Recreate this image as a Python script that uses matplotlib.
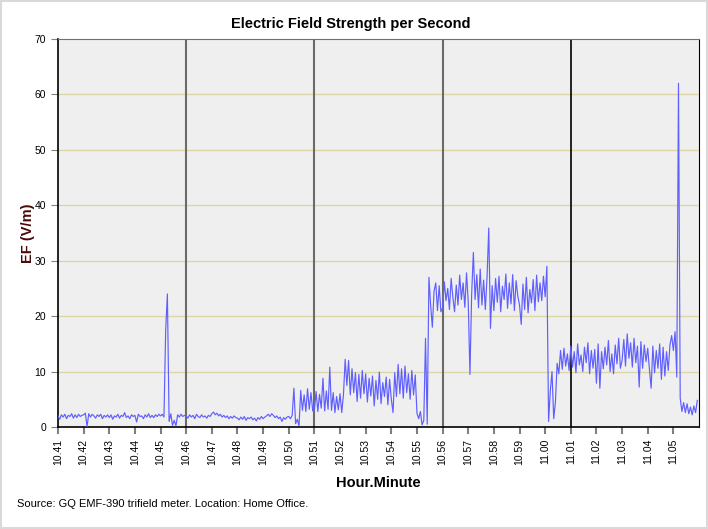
import numpy as np
import matplotlib
matplotlib.use("Agg")
import matplotlib.pyplot as plt
from matplotlib.patches import Rectangle

plt.rcParams['font.family'] = ['Liberation Sans', 'DejaVu Sans']

# EF readings (V/m), one value every 4 seconds, starting 10:41:00
step_s = 4
ef_1041_1045 = [
    2.0, 1.4, 2.2, 1.8, 2.3, 1.5, 2.1, 1.9, 2.4, 1.6, 2.2, 1.7, 2.3, 1.9, 2.1,
    2.2, 2.5, 0.1, 2.4, 1.8, 2.3, 2.0, 1.6, 2.2, 1.9, 2.3, 1.5, 2.1, 1.8, 2.2,
    1.7, 2.2, 1.4, 2.0, 1.8, 2.3, 1.6, 2.1, 1.9, 2.6, 1.7, 2.0, 1.5, 2.2, 1.9,
    2.1, 0.9, 2.3, 1.9, 2.0, 1.5, 2.2, 1.8, 2.4, 1.7, 2.1, 1.7, 2.2, 1.9, 2.3,
    2.0, 2.3, 1.8, 17.5, 24.0, 1.0, 2.4, 0.3, 1.2, 0.2, 2.2, 1.8, 2.3, 1.9, 2.1,
]
ef_1046_1050 = [
    2.0, 1.6, 2.2, 1.8, 2.1, 1.5, 2.3, 1.9, 1.7, 2.2, 1.8, 2.0, 1.6, 2.1, 1.9,
    2.4, 2.7, 2.2, 2.5, 2.0, 2.3, 1.8, 2.1, 1.7, 2.0, 1.5, 1.9, 1.6, 2.0, 1.7,
    1.6, 1.3, 1.8, 1.4, 1.9, 1.2, 1.7, 1.5, 1.8, 1.3, 1.6, 1.1, 1.7, 1.4, 1.9,
    1.5, 1.8, 2.0, 2.3, 1.9, 2.4, 2.1, 1.7, 2.0, 1.5, 1.8, 1.0, 1.7, 1.4, 1.8,
    1.9, 1.5, 2.1, 7.0, 0.6, 1.4, 0.2, 6.6, 3.0, 5.8, 2.8, 6.9, 3.2, 6.2, 2.9,
]
ef_1051_1055 = [
    3.1, 6.4, 2.8, 5.9, 3.4, 8.8, 2.9, 6.5, 3.2, 10.8, 3.0, 6.2, 2.6, 5.5, 3.1,
    6.0, 2.6, 5.8, 12.2, 7.5, 12.0, 5.8, 10.5, 6.2, 9.8, 4.6, 9.5, 5.2, 10.2, 6.0,
    9.6, 4.5, 8.8, 5.6, 9.2, 3.8, 8.4, 5.0, 9.9, 4.2, 8.0, 5.5, 9.0, 4.0, 8.6,
    5.0, 2.6, 9.8, 5.5, 11.3, 6.0, 10.5, 5.2, 11.0, 6.2, 9.6, 5.0, 10.2, 5.8, 9.4,
    2.5, 1.5, 2.8, 0.4, 1.2, 16.0, 0.5, 27.0, 22.0, 18.0, 24.5, 26.0, 21.0, 25.5, 20.8,
]
ef_1056_1100 = [
    21.5, 26.2, 22.8, 25.0, 21.2, 26.8, 23.4, 20.8, 25.6, 22.0, 27.4, 23.0, 26.0, 21.6, 27.8,
    22.5, 9.5, 24.0, 31.5, 23.0, 27.5, 21.5, 28.5, 22.0, 26.5, 21.2, 27.0, 35.9, 17.8, 25.5,
    21.0, 26.8, 22.5, 27.2, 20.8, 25.4, 23.0, 27.6, 21.4, 26.0, 22.2, 27.5, 21.0, 26.4, 23.6,
    22.0, 18.5, 25.8, 21.2, 27.0, 20.6, 24.8, 22.4, 26.6, 21.0, 27.4, 22.6, 26.0, 22.8, 27.2,
    23.5, 29.0, 1.0, 6.5, 10.0, 1.5, 4.5, 11.5, 9.6, 13.8, 10.4, 14.2, 11.0, 13.2, 10.2,
]
ef_1101_1105 = [
    14.6, 10.8, 13.6, 9.8, 15.0, 11.2, 13.0, 10.0, 14.4, 11.6, 15.2, 9.6, 13.8, 10.6, 14.0,
    7.9, 15.0, 7.0, 13.6, 10.5, 14.4, 11.2, 15.6, 10.0, 13.2, 9.6, 14.8, 11.4, 16.0, 10.6,
    12.0, 15.8, 11.0, 16.8, 12.4, 15.2, 10.8, 16.0, 11.6, 14.6, 7.2, 15.4, 10.6, 14.8, 11.8,
    14.2, 10.4, 7.0, 14.6, 9.8, 13.8, 10.6, 15.0, 8.6, 14.4, 9.2, 13.6, 10.2, 14.8, 16.5,
    13.8, 17.2, 9.0, 62.0, 5.2, 2.8, 4.4, 2.6, 4.2, 2.4, 3.6, 2.2, 3.8, 2.6, 4.8,
]
tick_labels = ["10.%02d" % m for m in range(41, 60)] + ["11.%02d" % m for m in range(0, 6)]

ef = np.array(ef_1041_1045 + ef_1046_1050 + ef_1051_1055 + ef_1056_1100 + ef_1101_1105)
t = np.arange(len(ef)) * step_s

fig = plt.figure(figsize=(7.08, 5.29), dpi=100)
fig.patches.append(Rectangle((0.002, 0.002), 0.996, 0.996, transform=fig.transFigure,
                             fill=False, edgecolor="#d9d9d9", linewidth=1.5))
ax = fig.add_axes([0.0819, 0.1928, 0.9054, 0.7335])
ax.set_facecolor("#efefef")

for y in range(10, 70, 10):
    ax.axhline(y, color="#ddd6a8", linewidth=1, zorder=1)
for x in (300, 600, 900):
    ax.axvline(x, color="#6a6a6a", linewidth=1.5, zorder=2)
ax.axvline(1200, color="#000000", linewidth=1.2, zorder=2)

ax.plot(t, ef, color="#5f5fff", linewidth=0.85, zorder=3)

ax.set_xlim(0, 1500)
ax.set_ylim(0, 70)
ax.set_yticks(range(0, 71, 10))
ax.set_xticks(np.arange(25) * 60)
ax.set_xticklabels(tick_labels, rotation=90)
ax.tick_params(axis="both", labelsize=7.5, color="#808080", length=5)
ax.tick_params(axis="x", width=1.5)

for s in ("left", "bottom", "right"):
    ax.spines[s].set_color("black")
ax.spines["top"].set_color("#707070")
ax.spines["left"].set_linewidth(1.2)
ax.spines["bottom"].set_linewidth(1.2)

fig.text(0.496, 0.954, "Electric Field Strength per Second", fontsize=10.5,
         fontweight="bold", ha="center", va="center")
ax.set_xlabel("Hour.Minute", fontsize=10.5, fontweight="bold", labelpad=8)
ax.set_ylabel("EF (V/m)", fontsize=10.5, fontweight="bold", color="#4a0a0a", labelpad=0)

fig.text(0.024, 0.041, "Source: GQ EMF-390 trifield meter. Location: Home Office.", fontsize=8)

fig.savefig("out.png", dpi=100)
